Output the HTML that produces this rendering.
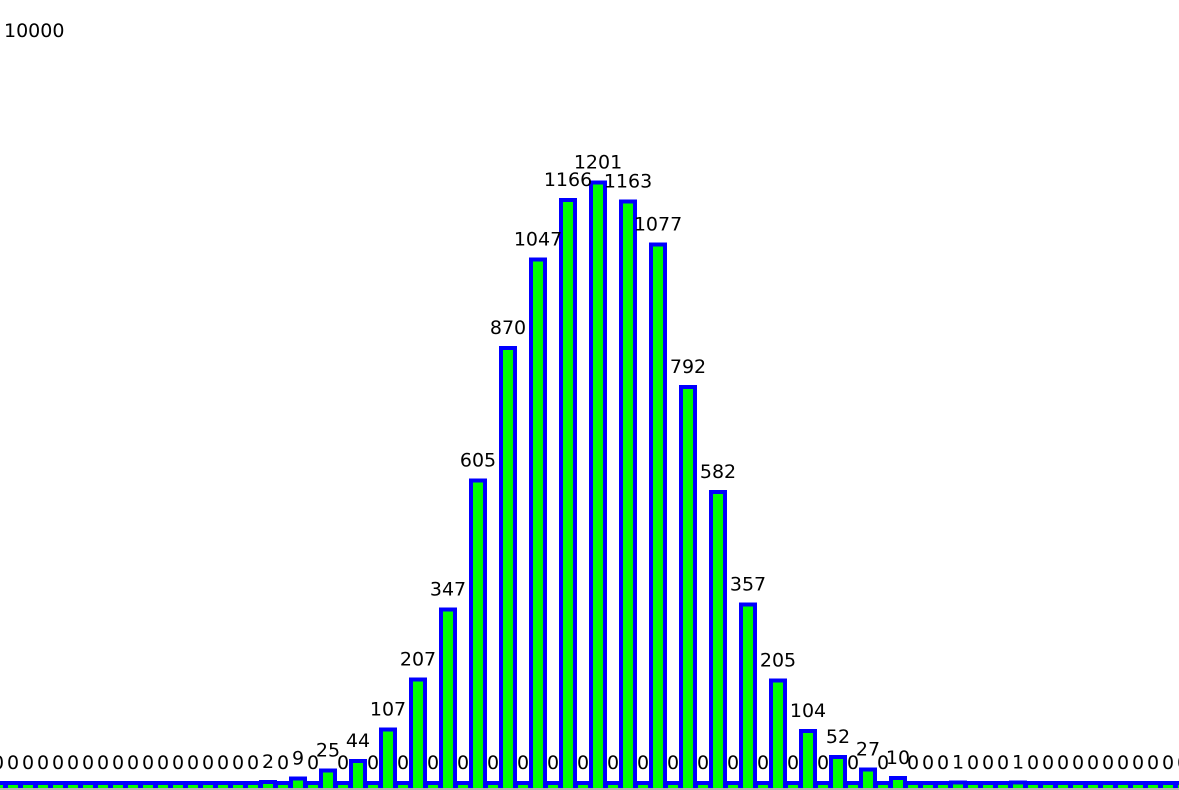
<!DOCTYPE html>
<html><head><meta charset="utf-8"><style>
html,body{margin:0;padding:0;background:#fff;width:1179px;height:790px;overflow:hidden}
svg{display:block}
text{font-family:"DejaVu Sans","Liberation Sans",sans-serif;font-size:19px;fill:#000}
</style></head><body>
<svg id="chart" width="1179" height="790" viewBox="0 0 1179 790">
<text x="4" y="37">10000</text>
<g id="bars"></g>
<g id="labels"></g>
<rect x="0" y="788" width="1179" height="2" fill="#b0b0b0"/>
</svg>
<script>
const counts = [0,0,0,0,0,0,0,0,0,0,0,0,0,0,0,0,0,0,2,0,9,0,25,0,44,0,107,0,207,0,347,0,605,0,870,0,1047,0,1166,0,1201,0,1163,0,1077,0,792,0,582,0,357,0,205,0,104,0,52,0,27,0,10,0,0,0,1,0,0,0,1,0,0,0,0,0,0,0,0,0,0,0];
const NS="http://www.w3.org/2000/svg";
const x0=-2, pitch=15, base=783, scale=0.5;
function xPos(i){return x0+pitch*i;}
function yPos(v){return base-v*scale;}
const gb=document.getElementById('bars'), gl=document.getElementById('labels');
counts.forEach((v,i)=>{
  const c=xPos(i), t=yPos(v);
  const r=document.createElementNS(NS,'rect');
  r.setAttribute('x',c-7);r.setAttribute('y',t);
  r.setAttribute('width',14);r.setAttribute('height',800-t);
  r.setAttribute('fill','#00ff00');r.setAttribute('stroke','#0000ff');r.setAttribute('stroke-width',4);
  
  
  gb.appendChild(r);
  const tx=document.createElementNS(NS,'text');
  tx.setAttribute('x',c);tx.setAttribute('y',t-14);tx.setAttribute('text-anchor','middle');
  tx.textContent=v;
  
  
  gl.appendChild(tx);
});
</script>
</body></html>
